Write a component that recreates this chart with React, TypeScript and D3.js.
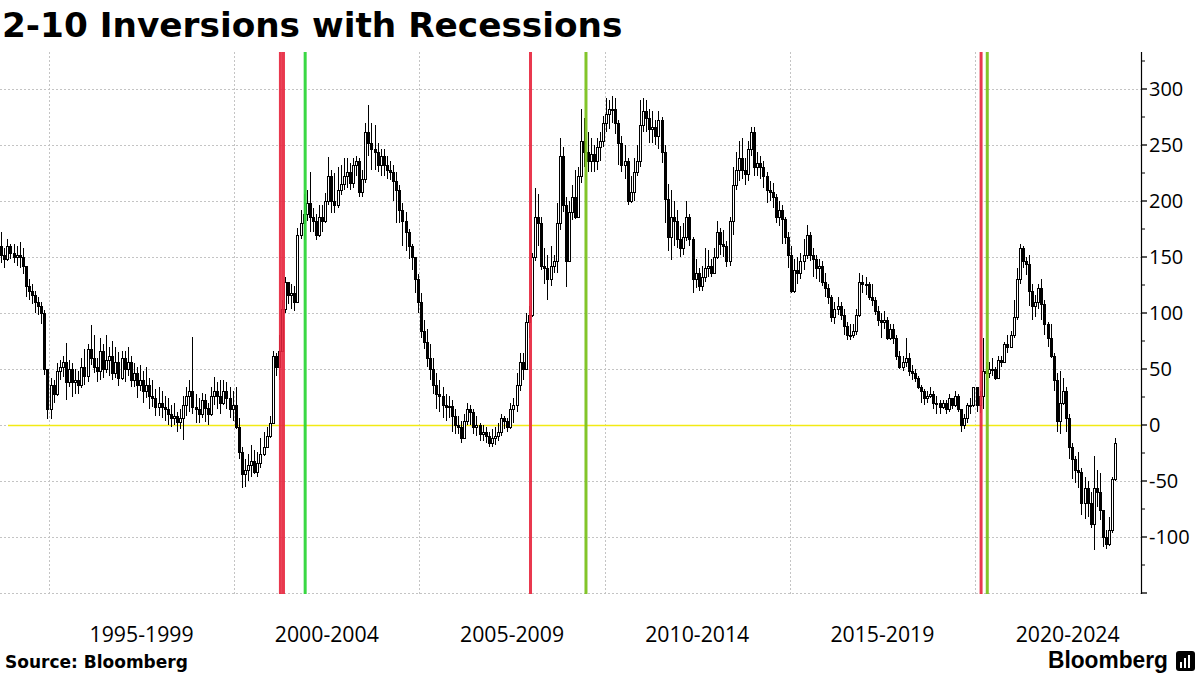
import React from "react";
import * as d3 from "d3";

// ---- data (monthly 2s10s spread candles, bp) ----
const startYear = 1993;
const startMonth = 8; // September (0-based)
const firstOpen = 160;

const closes = [
  152, 148, 160, 154, // 1993 Sep-Dec
  150, 152, 150, 142, 124, 120, 116, 110, 106, 100, 50, 14, // 1994
  36, 28, 48, 52, 56, 38, 50, 38, 40, 36, 52, 44, // 1995
  68, 60, 52, 48, 66, 50, 58, 62, 46, 56, 42, 60, // 1996
  50, 56, 40, 46, 36, 40, 30, 36, 26, 24, 16, 20, // 1997
  16, 14, 10, 6, 8, 3, 6, 18, 26, 30, 16, 14, // 1998
  10, 22, 15, 10, 26, 30, 26, 20, 30, 24, 14, 18, // 1999
  -2, -24, -44, -40, -36, -32, -42, -34, -26, -20, -10, 2, // 2000
  62, 52, 66, 104, 128, 116, 118, 110, 170, 180, 188, 198, // 2001
  186, 182, 170, 186, 182, 200, 222, 200, 196, 210, 215, 222, // 2002
  226, 216, 232, 236, 208, 220, 262, 252, 246, 244, 232, 240, // 2003
  232, 228, 226, 218, 210, 192, 182, 172, 160, 150, 130, 110, // 2004
  84, 74, 60, 50, 36, 28, 26, 18, 16, 17, 8, 0, // 2005
  -2, -12, 4, 14, 12, -2, 0, -8, -6, -10, -16, -12, // 2006
  -10, -6, 6, 4, -2, 14, 18, 36, 56, 50, 92, 98, // 2007
  150, 186, 180, 142, 140, 130, 142, 146, 180, 240, 196, 146, // 2008
  190, 204, 186, 222, 254, 244, 236, 242, 236, 248, 254, 270, // 2009
  278, 282, 282, 270, 252, 232, 236, 200, 208, 226, 236, 268, // 2010
  280, 274, 264, 266, 258, 272, 244, 202, 168, 186, 182, 166, // 2011
  158, 168, 186, 166, 130, 136, 124, 132, 140, 142, 136, 150, // 2012
  172, 162, 160, 146, 182, 214, 228, 238, 228, 224, 246, 262, // 2013
  230, 234, 230, 222, 210, 208, 204, 186, 192, 184, 168, 152, // 2014
  120, 138, 136, 146, 152, 170, 152, 148, 140, 142, 128, 122, // 2015
  114, 96, 104, 106, 98, 88, 80, 80, 84, 98, 128, 126, // 2016
  126, 114, 112, 102, 94, 92, 94, 78, 86, 78, 62, 52, // 2017
  56, 60, 48, 46, 42, 34, 30, 24, 26, 28, 20, 20, // 2018
  16, 20, 14, 24, 18, 26, 14, 0, 6, 18, 18, 34, // 2019
  18, 26, 48, 46, 50, 50, 42, 58, 56, 72, 70, 80, // 2020
  96, 130, 158, 146, 144, 120, 106, 110, 122, 108, 90, 78, // 2021
  62, 40, 4, 20, 30, 6, -20, -30, -40, -42, -70, -56, // 2022
  -70, -88, -56, -60, -76, -100, -106, -94, -48, -16, // 2023 Jan-Oct
];

const highs = [
  172, 158, 166, 162,
  162, 160, 163, 158, 140, 130, 126, 120, 114, 110, 103, 48,
  42, 40, 55, 58, 62, 73, 58, 55, 50, 48, 60, 68,
  72, 89, 80, 60, 78, 72, 80, 70, 75, 70, 65, 66,
  66, 70, 62, 55, 52, 54, 48, 52, 42, 40, 32, 34,
  30, 26, 24, 18, 20, 12, 14, 26, 34, 40, 79, 28,
  24, 29, 28, 20, 34, 43, 38, 40, 40, 38, 34, 30,
  34, 6, -20, -30, -26, -18, -22, -24, -12, -6, -2, 8,
  66, 64, 80, 112, 132, 128, 126, 124, 176, 192, 206, 210,
  226, 194, 188, 196, 196, 207, 239, 228, 225, 230, 232, 238,
  238, 234, 238, 240, 238, 228, 270, 286, 270, 268, 252, 246,
  246, 240, 236, 232, 226, 214, 198, 190, 175, 162, 150, 135,
  118, 94, 86, 72, 60, 46, 40, 34, 28, 26, 22, 14,
  8, 4, 10, 20, 18, 14, 8, 2, 0, -2, -6, -4,
  -2, 2, 10, 8, 6, 20, 24, 46, 64, 64, 100, 106,
  154, 212, 206, 186, 158, 152, 160, 152, 198, 256, 248, 204,
  200, 214, 228, 230, 282, 274, 262, 256, 250, 256, 262, 276,
  292, 290, 294, 292, 272, 258, 250, 238, 222, 238, 250, 290,
  292, 290, 282, 280, 272, 280, 275, 250, 215, 210, 200, 192,
  178, 180, 200, 188, 168, 148, 140, 142, 158, 156, 148, 158,
  182, 176, 174, 164, 186, 230, 244, 254, 256, 238, 254, 266,
  266, 244, 240, 236, 226, 218, 216, 206, 200, 196, 186, 172,
  160, 148, 150, 154, 166, 179, 172, 158, 152, 148, 146, 136,
  126, 116, 110, 114, 110, 104, 92, 90, 90, 104, 136, 134,
  132, 128, 126, 114, 106, 100, 102, 96, 90, 90, 80, 66,
  62, 78, 64, 54, 50, 44, 36, 32, 30, 34, 30, 26,
  22, 22, 22, 28, 24, 30, 28, 14, 10, 20, 24, 34,
  34, 30, 78, 56, 56, 60, 52, 62, 62, 74, 80, 84,
  112, 140, 162, 160, 150, 152, 126, 116, 126, 130, 112, 92,
  90, 64, 46, 48, 42, 34, 10, -16, -28, -24, -38, -46,
  -50, -60, -28, -40, -43, -76, -94, -82, -46, -12,
];

const lows = [
  145, 140, 146, 148,
  145, 142, 140, 135, 114, 112, 108, 100, 98, 90, 45, 5,
  5, 20, 26, 40, 43, 22, 34, 25, 28, 28, 33, 36,
  38, 54, 46, 38, 40, 42, 46, 44, 40, 42, 35, 40,
  38, 44, 34, 34, 24, 30, 20, 24, 14, 16, 8, 8,
  6, 4, 0, -2, 0, -6, -4, -13, 8, 12, 10, 2,
  2, 6, 3, 0, 8, 18, 14, 10, 18, 14, 6, 4,
  -4, -30, -56, -55, -50, -46, -44, -46, -38, -28, -18, -12,
  8, 44, 40, 66, 100, 108, 104, 102, 110, 166, 165, 182,
  172, 172, 165, 168, 172, 180, 196, 189, 189, 194, 205, 210,
  212, 210, 212, 222, 204, 204, 216, 240, 228, 228, 226, 222,
  222, 220, 219, 200, 180, 180, 160, 155, 148, 138, 118, 100,
  78, 68, 52, 40, 28, 14, 12, 6, 4, 6, -6, -8,
  -8, -16, -10, 0, 0, -8, -10, -14, -14, -16, -20, -20,
  -18, -14, -10, -4, -6, -4, 2, 12, 30, 40, 50, 78,
  96, 146, 160, 138, 126, 112, 124, 136, 136, 174, 190, 123,
  150, 183, 184, 186, 216, 230, 226, 226, 226, 228, 236, 248,
  262, 264, 270, 260, 232, 226, 220, 196, 198, 200, 222, 230,
  262, 262, 252, 252, 250, 246, 234, 180, 155, 147, 160, 158,
  150, 152, 164, 160, 118, 122, 120, 120, 128, 132, 132, 136,
  148, 152, 150, 141, 142, 170, 210, 218, 220, 214, 218, 240,
  222, 222, 220, 212, 198, 200, 194, 180, 178, 162, 162, 140,
  118, 118, 126, 130, 138, 148, 146, 132, 130, 128, 124, 114,
  108, 92, 90, 98, 94, 80, 76, 76, 78, 80, 96, 118,
  116, 112, 106, 98, 88, 78, 86, 76, 76, 72, 58, 50,
  48, 52, 44, 40, 38, 32, 20, 18, 20, 24, 14, 10,
  10, 14, 10, 12, 14, 16, 12, -6, -4, 2, 10, 16,
  12, 11, 14, 40, 42, 44, 40, 42, 52, 56, 64, 74,
  78, 94, 126, 140, 134, 106, 94, 96, 104, 94, 80, 70,
  60, 30, -6, -8, 18, -6, -30, -48, -52, -56, -80, -84,
  -82, -92, -112, -73, -85, -109, -111, -108, -96, -50,
];

const yTickValues = [300, 250, 200, 150, 100, 50, 0, -50, -100];
const yGridValues = [300, 250, 200, 150, 100, 50, 0, -50, -100, -150];
const yMinorValues = [325, 275, 225, 175, 125, 75, 25, -25, -75, -125];
const periodStartYears = [1995, 2000, 2005, 2010, 2015, 2020];
const periodLabels = ["1995-1999", "2000-2004", "2005-2009", "2010-2014", "2015-2019", "2020-2024"];
const recessionStarts = ["2001-04-01", "2001-05-01", "2008-01-01", "2020-03-01"];
const recessionEnds = ["2001-12-01", "2009-07-01", "2020-05-01"];
const recessionEndColors = ["#2fd63a", "#7cc21f", "#7cc21f"];

const W = 1200;
const H = 675;
const plotTop = 52;
const plotBottom = 594;
const axisX = 1141;

function parseDate(s: string) {
  const [yy, mm, dd] = s.split("-").map(Number);
  return new Date(yy, mm - 1, dd);
}

export default function App() {
  const x = d3.scaleTime().domain([new Date(1995, 0, 1), new Date(2020, 0, 1)]).range([49, 975]);
  const y = d3.scaleLinear().domain([-150, 300]).range([593, 89]);

  const candles = closes.map((c, i) => {
    const d0 = new Date(startYear, startMonth + i, 1);
    const d1 = new Date(startYear, startMonth + i + 1, 1);
    const cx = Math.round((x(d0) + x(d1)) / 2);
    const o = i === 0 ? firstOpen : closes[i - 1];
    const hi = Math.max(highs[i], o, c);
    const lo = Math.min(lows[i], o, c);
    return { cx, o, c, hi, lo, up: c >= o };
  });

  const font = "'Open Sans', 'DejaVu Sans', sans-serif";

  return (
    <svg width={W} height={H} style={{ position: "absolute", left: 0, top: 0, background: "#fff" }}>
      <rect x={0} y={0} width={W} height={H} fill="#fff" />
      <text x={2} y={37} fontFamily="'DejaVu Sans', sans-serif" fontWeight="bold" fontSize={34.3} fill="#000">
        2-10 Inversions with Recessions
      </text>

      {/* grid */}
      <g stroke="#c4c4c4" strokeWidth={1} strokeDasharray="2 2">
        {yGridValues.map((v) => (
          <line key={"hg" + v} x1={0} x2={axisX} y1={Math.round(y(v)) + 0.5} y2={Math.round(y(v)) + 0.5} />
        ))}
        {periodStartYears.map((yr) => (
          <line key={"vg" + yr} x1={Math.round(x(new Date(yr, 0, 1))) + 0.5} x2={Math.round(x(new Date(yr, 0, 1))) + 0.5} y1={plotTop} y2={plotBottom} />
        ))}
      </g>

      {/* zero line */}
      <line x1={8} x2={axisX} y1={Math.round(y(0)) + 0.5} y2={Math.round(y(0)) + 0.5} stroke="#f2ea14" strokeWidth={1.3} />

      {/* candles */}
      <g shapeRendering="crispEdges">
        {candles.map((k, i) => {
          const top = Math.round(y(Math.max(k.o, k.c)));
          const bot = Math.round(y(Math.min(k.o, k.c)));
          return (
            <g key={i}>
              <line x1={k.cx + 0.5} x2={k.cx + 0.5} y1={Math.round(y(k.hi))} y2={Math.round(y(k.lo))} stroke="#000" strokeWidth={1} />
              <rect
                x={k.cx - 0.5}
                y={top + 0.5}
                width={2}
                height={Math.max(1, bot - top)}
                fill={k.up ? "#fff" : "#000"}
                stroke="#000"
                strokeWidth={1}
              />
            </g>
          );
        })}
      </g>

      {/* recession lines */}
      {recessionStarts.map((s, i) => (
        <line key={"rs" + i} x1={x(parseDate(s))} x2={x(parseDate(s))} y1={plotTop} y2={plotBottom} stroke="#e8283f" strokeWidth={3} opacity={0.92} />
      ))}
      {recessionEnds.map((s, i) => (
        <line key={"re" + i} x1={x(parseDate(s))} x2={x(parseDate(s))} y1={plotTop} y2={plotBottom} stroke={recessionEndColors[i]} strokeWidth={3} opacity={0.95} />
      ))}

      {/* right axis */}
      <line x1={axisX + 0.5} x2={axisX + 0.5} y1={plotTop} y2={plotBottom} stroke="#000" strokeWidth={1.2} />
      {yGridValues.map((v) => (
        <line key={"tk" + v} x1={axisX} x2={axisX + 6} y1={y(v)} y2={y(v)} stroke="#000" strokeWidth={1.3} />
      ))}
      {yMinorValues.map((v) => (
        <line key={"mt" + v} x1={axisX} x2={axisX + 4} y1={y(v)} y2={y(v)} stroke="#000" strokeWidth={1} />
      ))}
      {yTickValues.map((v) => (
        <text key={"tl" + v} x={1149} y={y(v)} dy="0.36em" fontFamily={font} fontSize={20} fill="#000">
          {v < 0 ? "-" + Math.abs(v) : String(v)}
        </text>
      ))}

      {/* x labels */}
      {periodLabels.map((lab, i) => {
        const cx = (x(new Date(periodStartYears[i], 0, 1)) + x(new Date(periodStartYears[i] + 5, 0, 1))) / 2;
        return (
          <text key={lab} x={cx} y={642} textAnchor="middle" fontFamily={font} fontSize={22} textLength={104} lengthAdjust="spacingAndGlyphs" fill="#000">
            {lab}
          </text>
        );
      })}

      {/* footer */}
      <text x={5} y={668} fontFamily="'DejaVu Sans', sans-serif" fontWeight="bold" fontSize={17} fill="#000">
        Source: Bloomberg
      </text>
      <text x={1048} y={668} fontFamily="'Liberation Sans', Arial, sans-serif" fontWeight="bold" fontSize={24} textLength={120} lengthAdjust="spacingAndGlyphs" fill="#000">
        Bloomberg
      </text>
      <rect x={1176} y={651} width={19} height={20} rx={3} fill="#000" />
      <rect x={1180} y={662} width={2} height={6} fill="#fff" />
      <rect x={1184} y={658} width={2} height={10} fill="#fff" />
      <rect x={1188} y={655} width={2} height={13} fill="#fff" />
    </svg>
  );
}
